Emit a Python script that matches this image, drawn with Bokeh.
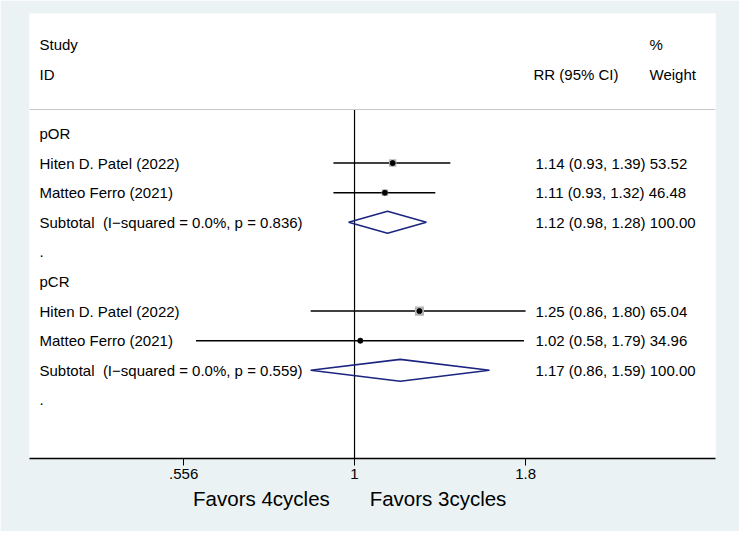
import numpy as np
from bokeh.plotting import figure
from bokeh.models import Range1d, FixedTicker, Span, ColumnDataSource
from bokeh.embed import file_html
from bokeh.resources import INLINE
from bokeh.core.properties import value

# ---------------- data ----------------
NB = "\u00a0"
row_labels = ["pOR", "Hiten D. Patel (2022)", "Matteo Ferro (2021)",
              "Subtotal" + NB + NB + "(I\u2212squared = 0.0%, p = 0.836)", ".",
              "pCR", "Hiten D. Patel (2022)", "Matteo Ferro (2021)",
              "Subtotal" + NB + NB + "(I\u2212squared = 0.0%, p = 0.559)", "."]

study_rows = [1, 2, 6, 7]
study_rr = [1.14, 1.11, 1.25, 1.02]
study_lo = [0.93, 0.93, 0.86, 0.58]
study_hi = [1.39, 1.32, 1.80, 1.79]
study_weight = [53.52, 46.48, 65.04, 34.96]

subtotal_rows = [3, 8]
subtotal_rr = [1.12, 1.17]
subtotal_lo = [0.98, 0.86]
subtotal_hi = [1.28, 1.59]
subtotal_weight = [100.00, 100.00]

tick_values = [0.556, 1, 1.8]
tick_labels = [".556", "1", "1.8"]

header_left = ["Study", "ID"]
header_est = "RR (95% CI)"
header_weight = ["%", "Weight"]
favours = ["Favors 4cycles", "Favors 3cycles"]
null_value = 1

# ---------------- layout helpers ----------------
ROW0, ROWSTEP = 141.0, 29.6      # reference pixel geometry of rows
def ry(px):                       # reference page pixel -> y data value
    return -(px - ROW0) / ROWSTEP

X0, X1 = 0.3273, 3.457
Y0, Y1 = ry(466), ry(21)
FONT = value("Liberation Sans")

p = figure(width=739, height=531, x_axis_type="log",
           x_range=Range1d(X0, X1), y_range=Range1d(Y0, Y1),
           y_axis_location=None, toolbar_location=None,
           output_backend="svg",
           min_border_left=29, min_border_right=24,
           min_border_top=13, min_border_bottom=73)
p.background_fill_color = "white"
p.border_fill_color = "#EAF2F3"
p.outline_line_color = None
p.xgrid.visible = False
p.ygrid.visible = False

# axis
ax = p.xaxis[0]
ax.ticker = FixedTicker(ticks=tick_values, minor_ticks=[])
ax.major_label_overrides = {v: l for v, l in zip(tick_values, tick_labels)}
ax.axis_line_color = "black"
ax.axis_line_width = 1.4
ax.major_tick_out = 7
ax.major_tick_in = 0
ax.major_tick_line_color = "black"
ax.major_tick_line_width = 1
ax.minor_tick_line_color = None
ax.major_label_text_font = "Liberation Sans"
ax.major_label_text_font_size = "15px"
ax.major_label_text_color = "black"
ax.major_label_standoff = 3
# favours texts, split either side of the null line
ax.axis_label = favours[0] + NB * 7 + favours[1] + NB * 8
ax.axis_label_text_font = "Liberation Sans"
ax.axis_label_text_font_size = "20.5px"
ax.axis_label_text_font_style = "normal"
ax.axis_label_text_color = "black"
ax.axis_label_standoff = 5

# separator line and null line
top_line_y = ry(117)
p.add_layout(Span(location=top_line_y, dimension="width",
                  line_color="#C8C8C8", line_width=1))
p.segment(x0=[null_value], y0=[top_line_y], x1=[null_value], y1=[Y0],
          line_color="black", line_width=1.2)

# left labels
row_y = [-i for i in range(len(row_labels))]
p.text(x=[X0] * len(row_labels), y=row_y, text=row_labels,
       x_offset=10, text_font=FONT, text_font_size=value("15px"),
       text_baseline="middle", text_align="left", text_color="black")

# headers
hdr_y = [3, 2]
p.text(x=[X0, X0], y=hdr_y, text=header_left, x_offset=10,
       text_font=FONT, text_font_size=value("15px"),
       text_baseline="middle", text_align="left", text_color="black")
p.text(x=[X0], y=[2], text=[header_est], x_offset=504,
       text_font=FONT, text_font_size=value("15px"),
       text_baseline="middle", text_align="left", text_color="black")
p.text(x=[X0, X0], y=hdr_y, text=header_weight, x_offset=620,
       text_font=FONT, text_font_size=value("15px"),
       text_baseline="middle", text_align="left", text_color="black")

# study estimates
sy = [-r for r in study_rows]
src = ColumnDataSource(dict(y=sy, rr=study_rr, lo=study_lo, hi=study_hi,
                            size=[w * 0.14 for w in study_weight]))
p.segment(x0="lo", y0="y", x1="hi", y1="y", source=src,
          line_color="black", line_width=1.5)
p.scatter(x="rr", y="y", size="size", marker="square", source=src,
          fill_color="#B4B4B4", line_color=None)
p.scatter(x="rr", y="y", size=5, marker="circle", source=src,
          fill_color="black", line_color="black")

# subtotal diamonds
H = 0.37
dxs = [[lo, rr, hi, rr] for lo, rr, hi in zip(subtotal_lo, subtotal_rr, subtotal_hi)]
dys = [[-r, -r + H, -r, -r - H] for r in subtotal_rows]
p.patches(xs=dxs, ys=dys, fill_color=None, line_color="#1C2580", line_width=1.6)

# right column text
est_rows = study_rows + subtotal_rows
est_txt = [f"{rr:.2f} ({lo:.2f}, {hi:.2f}) {w:.2f}" for rr, lo, hi, w in
           zip(study_rr + subtotal_rr, study_lo + subtotal_lo,
               study_hi + subtotal_hi, study_weight + subtotal_weight)]
p.text(x=[X0] * len(est_rows), y=[-r for r in est_rows], text=est_txt,
       x_offset=506, text_font=FONT, text_font_size=value("15px"),
       text_baseline="middle", text_align="left", text_color="black")

open("out.html", "w").write(file_html(p, INLINE))
